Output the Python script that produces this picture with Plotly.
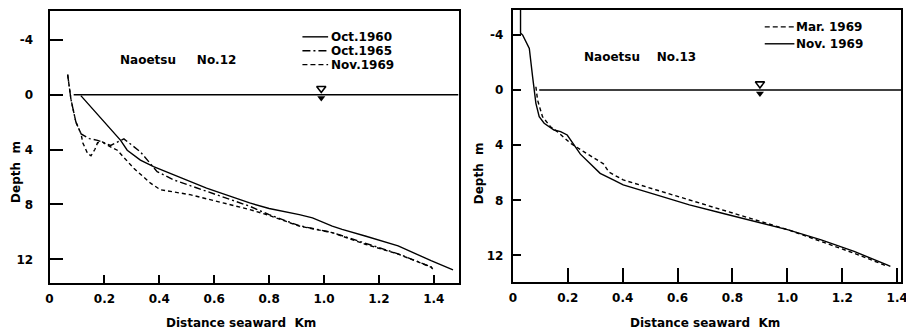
import plotly.graph_objects as go

# The page body has an 8px margin, so the figure is placed at (8, 8)
OFF = 8
W, H = 914 - OFF, 333 - OFF

# ---------------- data ----------------
# Left panel: Naoetsu No.12
oct1960_x = [0.114, 0.199, 0.259, 0.283, 0.331, 0.379, 0.452, 0.572, 0.729, 0.80, 0.91, 0.958, 1.03, 1.066, 1.15, 1.27, 1.39, 1.47]
oct1960_y = [0.07, 2.01, 3.33, 4.05, 4.77, 5.25, 5.85, 6.81, 7.89, 8.3, 8.74, 8.98, 9.58, 9.82, 10.3, 11.02, 12.1, 12.77]

oct1965_x = [0.066, 0.078, 0.096, 0.115, 0.145, 0.175, 0.223, 0.271, 0.331, 0.374, 0.392, 0.452, 0.572, 0.729, 0.80, 0.91, 1.03, 1.15, 1.27, 1.39, 1.40]
oct1965_y = [-1.46, 0.34, 2.0, 2.86, 3.2, 3.33, 3.7, 3.22, 4.17, 5.13, 5.61, 6.21, 7.05, 8.13, 8.75, 9.55, 10.05, 10.85, 11.6, 12.55, 12.8]

nov1969a_x = [0.066, 0.078, 0.096, 0.115, 0.121, 0.139, 0.151, 0.165, 0.175, 0.193, 0.211, 0.247, 0.307, 0.368, 0.404, 0.512, 0.632, 0.729, 0.80, 0.91, 1.03, 1.15, 1.27, 1.39, 1.40]
nov1969a_y = [-1.46, 0.34, 2.0, 2.86, 3.5, 4.3, 4.45, 4.0, 3.5, 3.45, 3.69, 4.05, 5.37, 6.45, 6.93, 7.29, 7.89, 8.37, 8.8, 9.58, 10.06, 10.9, 11.62, 12.57, 12.81]

# Right panel: Naoetsu No.13
mar1969_x = [0.084, 0.090, 0.108, 0.137, 0.162, 0.21, 0.258, 0.306, 0.33, 0.35, 0.402, 0.523, 0.643, 0.763, 0.883, 1.003, 1.123, 1.243, 1.351, 1.363]
mar1969_y = [-0.24, 0.72, 1.93, 2.66, 3.02, 3.86, 4.47, 5.07, 5.35, 5.95, 6.52, 7.25, 7.97, 8.7, 9.42, 10.14, 10.99, 11.84, 12.68, 12.8]

nov1969b_x = [0.028, 0.028, 0.036, 0.060, 0.072, 0.078, 0.084, 0.096, 0.114, 0.150, 0.174, 0.198, 0.21, 0.246, 0.282, 0.318, 0.366, 0.402, 0.523, 0.643, 0.763, 0.883, 1.003, 1.123, 1.243, 1.363, 1.375]
nov1969b_y = [-6.5, -4.13, -3.99, -3.02, -0.96, -0.12, 0.96, 1.93, 2.41, 2.90, 3.02, 3.26, 3.62, 4.65, 5.35, 6.04, 6.52, 6.88, 7.6, 8.33, 8.94, 9.54, 10.14, 10.87, 11.71, 12.68, 12.8]

# sea level lines and marks
sea_left_x = [0.088, 1.49]
sea_right_x = [0.096, 1.42]
sea_level = [0, 0]
mark_left_x = 0.99
mark_right_x = 0.90

x_tickvals = [0, 0.2, 0.4, 0.6, 0.8, 1.0, 1.2, 1.4]
x_ticktext = ["0", "0.2", "0.4", "0.6", "0.8", "1.0", "1.2", "1.4"]
y_tickvals = [-4, 0, 4, 8, 12]
y_ticktext = ["-4", "0", "4", "8", "12"]

left_legend = ["Oct.1960", "Oct.1965", "Nov.1969"]
right_legend = ["Mar. 1969", "Nov. 1969"]

FONT = "DejaVu Sans"
DASH = "4px,3px"
DASHDOT = "7px,3px,2px,3px"
LEG_DASH = "5px,3px"
LEG_DASHDOT = "8px,3px,2px,3px"

fig = go.Figure()

def line(x, y, xa, ya, dash="solid", width=1.4):
    fig.add_trace(go.Scatter(x=x, y=y, xaxis=xa, yaxis=ya, mode="lines",
                             line=dict(color="black", width=width, dash=dash),
                             showlegend=False, hoverinfo="skip"))

line(oct1960_x, oct1960_y, "x", "y")
line(oct1965_x, oct1965_y, "x", "y", DASHDOT)
line(nov1969a_x, nov1969a_y, "x", "y", DASH)
line(sea_left_x, sea_level, "x", "y", width=1.5)

line(mar1969_x, mar1969_y, "x2", "y2", DASH)
line(nov1969b_x, nov1969b_y, "x2", "y2")
line(sea_right_x, sea_level, "x2", "y2", width=1.5)

for xa, ya, mx in (("x", "y", mark_left_x), ("x2", "y2", mark_right_x)):
    fig.add_trace(go.Scatter(x=[mx], y=[-0.45], xaxis=xa, yaxis=ya, mode="markers",
                             marker=dict(symbol="triangle-down-open", size=8, color="black",
                                         line=dict(width=1.6, color="black")),
                             showlegend=False, hoverinfo="skip"))
    fig.add_trace(go.Scatter(x=[mx], y=[0.25], xaxis=xa, yaxis=ya, mode="markers",
                             marker=dict(symbol="triangle-down", size=7, color="black"),
                             showlegend=False, hoverinfo="skip"))

tickfont = dict(family=FONT, size=12, color="black", weight="bold")

def xaxis(domain, rng, ticklen):
    return dict(domain=domain, range=rng, tickvals=x_tickvals, ticktext=x_ticktext,
                ticks="inside", ticklen=ticklen, tickwidth=1.5, tickcolor="black",
                showline=True, linecolor="black", linewidth=2, mirror=True,
                showgrid=False, zeroline=False, tickfont=tickfont, ticklabelstandoff=3,
                ticklabeloverflow="allow")

def yaxis(domain, rng, ticklen, anchor, standoff):
    return dict(domain=domain, range=rng, tickvals=y_tickvals, ticktext=y_ticktext,
                ticks="inside", ticklen=ticklen, tickwidth=1.5, tickcolor="black",
                showline=True, linecolor="black", linewidth=2, mirror=True,
                showgrid=False, zeroline=False, tickfont=tickfont, anchor=anchor,
                ticklabelstandoff=standoff)

def px(x):
    return min(max((x - OFF) / W, 0), 1)

def py(y):
    return min(max(1 - (y - OFF) / H, 0), 1)

fig.update_layout(
    width=W, height=H, margin=dict(l=0, r=0, t=0, b=0),
    paper_bgcolor="white", plot_bgcolor="white",
    xaxis=dict(**xaxis([px(46), px(460)], [0, 1.49], 8), anchor="y"),
    yaxis=yaxis([py(283), py(9)], [13.75, -6.1], 13, "x", 12),
    xaxis2=dict(**xaxis([px(515), px(908)], [0, 1.414], 14), anchor="y2"),
    yaxis2=yaxis([py(282), py(8)], [13.95, -5.81], 8, "x2", 5),
)

ann = []
def text(t, x, y, xanchor="left", angle=0, size=12):
    ann.append(dict(text=t, x=px(x), y=py(y), xref="paper", yref="paper",
                    xanchor=xanchor, yanchor="middle", showarrow=False, textangle=angle,
                    font=dict(family=FONT, size=size, color="black", weight="bold")))

nb = "\u00a0"
text("Naoetsu" + nb * 5 + "No.12", 115, 58)
text("Naoetsu" + nb * 4 + "No.13", 585, 55)
text("Distance seaward" + nb * 2 + "Km", 240, 323, "center")
text("Distance seaward" + nb * 2 + "Km", 710, 323, "center")
text("Depth" + nb * 2 + "m", 12, 171, "center", -90)
text("Depth" + nb * 2 + "m", 481, 172, "center", -90)

# legends (line samples + labels)
shapes = []
left_dashes = ["solid", LEG_DASHDOT, LEG_DASH]
for i, (lab, d) in enumerate(zip(left_legend, left_dashes)):
    yy = 35 + 14 * i
    shapes.append(dict(type="line", xref="paper", yref="paper", x0=px(302), x1=px(328),
                       y0=py(yy), y1=py(yy), line=dict(color="black", width=1.4, dash=d)))
    text(lab, 329, yy)
right_dashes = [LEG_DASH, "solid"]
for i, (lab, d) in enumerate(zip(right_legend, right_dashes)):
    yy = 25 + 17 * i
    shapes.append(dict(type="line", xref="paper", yref="paper", x0=px(770), x1=px(800),
                       y0=py(yy), y1=py(yy), line=dict(color="black", width=1.4, dash=d)))
    text(lab, 800, yy)

fig.update_layout(annotations=ann, shapes=shapes)
fig.write_html("out.html")
